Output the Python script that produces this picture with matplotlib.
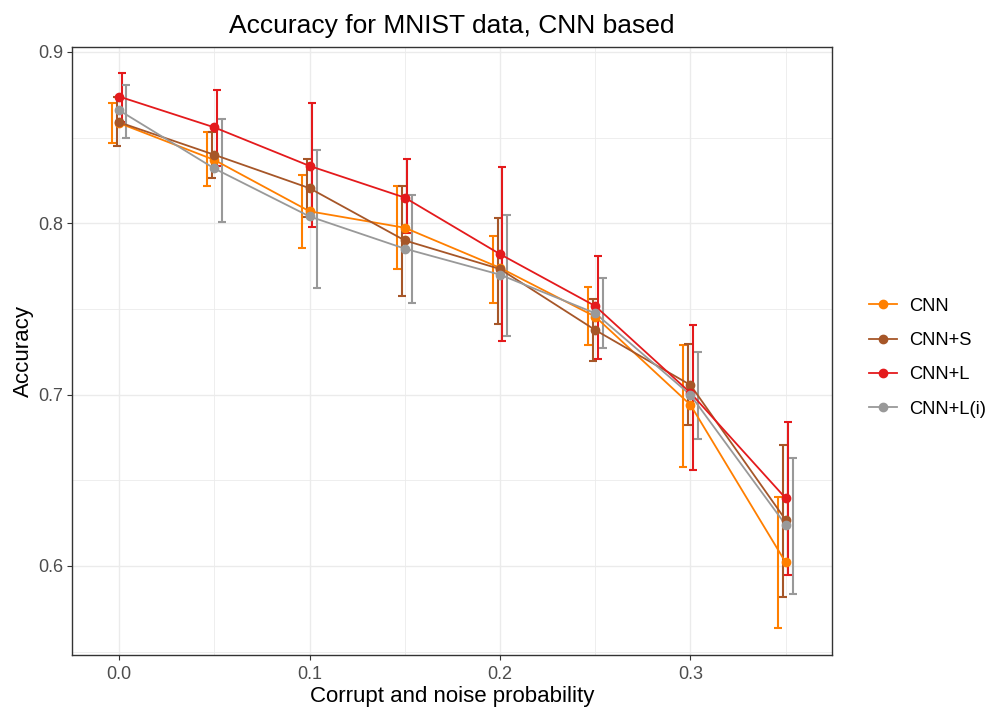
import matplotlib
matplotlib.use("Agg")
import matplotlib.pyplot as plt
from matplotlib.ticker import MultipleLocator

plt.rcParams['font.family'] = ['Liberation Sans', 'DejaVu Sans']

# data
probs = [0.0, 0.05, 0.1, 0.15, 0.2, 0.25, 0.3, 0.35]
models = ["CNN", "CNN+S", "CNN+L", "CNN+L(i)"]
colors = ["#FF7F00", "#A65628", "#E41A1C", "#999999"]

cnnMean = [0.8585, 0.837, 0.807, 0.7974, 0.774, 0.7455, 0.694, 0.602]
cnnLow = [0.847, 0.822, 0.7857, 0.7731, 0.7537, 0.729, 0.6577, 0.564]
cnnHigh = [0.870, 0.853, 0.828, 0.8218, 0.7926, 0.7626, 0.729, 0.640]

cnnSMean = [0.859, 0.840, 0.8205, 0.790, 0.7733, 0.7377, 0.7056, 0.6268]
cnnSLow = [0.845, 0.8265, 0.8035, 0.7576, 0.7412, 0.7198, 0.6823, 0.582]
cnnSHigh = [0.874, 0.853, 0.8377, 0.8218, 0.803, 0.7556, 0.7294, 0.6706]

cnnLMean = [0.874, 0.856, 0.8335, 0.815, 0.782, 0.7517, 0.701, 0.6395]
cnnLLow = [0.859, 0.8335, 0.798, 0.7945, 0.7315, 0.7206, 0.656, 0.5947]
cnnLHigh = [0.8876, 0.878, 0.870, 0.8374, 0.833, 0.781, 0.7406, 0.6838]

cnnLiMean = [0.866, 0.832, 0.804, 0.7852, 0.770, 0.7475, 0.6998, 0.6239]
cnnLiLow = [0.850, 0.801, 0.762, 0.7537, 0.734, 0.7274, 0.674, 0.5834]
cnnLiHigh = [0.881, 0.861, 0.843, 0.8165, 0.8048, 0.768, 0.7247, 0.6632]

means = [cnnMean, cnnSMean, cnnLMean, cnnLiMean]
lows = [cnnLow, cnnSLow, cnnLLow, cnnLiLow]
highs = [cnnHigh, cnnSHigh, cnnLHigh, cnnLiHigh]

dodge = [-0.0039, -0.0013, 0.0013, 0.0039]  # errorbars are dodged, points are not

fig = plt.figure(figsize=(9.89, 7.11), dpi=100)
ax = fig.add_axes([72 / 989, 1 - 655 / 711, 760 / 989, 608.5 / 711])

# error bars first
for i in range(len(models)):
    xs = [p + dodge[i] for p in probs]
    yerr = [[m - l for m, l in zip(means[i], lows[i])],
            [h - m for m, h in zip(means[i], highs[i])]]
    ax.errorbar(xs, means[i], yerr=yerr, fmt="none", ecolor=colors[i],
                elinewidth=1.5, capsize=3, capthick=1.5, zorder=2)

for i in range(len(models)):
    ax.plot(probs, means[i], color=colors[i], lw=1.3, zorder=3)

handles = []
for i in range(len(models)):
    ax.plot(probs, means[i], color=colors[i], marker="o",
            markersize=6, linestyle="none", zorder=4)
    handles.append(plt.Line2D([], [], color=colors[i], lw=1.3, marker="o", markersize=6))

ax.set_xlim(-0.0247, 0.3743)
ax.set_ylim(0.548, 0.9032)
ax.xaxis.set_major_locator(MultipleLocator(0.1))
ax.xaxis.set_minor_locator(MultipleLocator(0.05))
ax.yaxis.set_major_locator(MultipleLocator(0.1))
ax.yaxis.set_minor_locator(MultipleLocator(0.05))
ax.grid(which="major", color="#EBEBEB", lw=1.0, zorder=0)
ax.grid(which="minor", color="#EBEBEB", lw=0.6, zorder=0)
ax.set_axisbelow(True)
ax.tick_params(which="minor", length=0)
ax.tick_params(which="major", length=3.5, width=0.8, color="#333333",
               labelcolor="#4D4D4D", labelsize=13, pad=3)
ax.tick_params(axis="x", pad=4.5)
for s in ax.spines.values():
    s.set_color("#333333")
    s.set_linewidth(1.0)

ax.set_xlabel("Corrupt and noise probability", fontsize=16, labelpad=2)
ax.set_ylabel("Accuracy", fontsize=16, labelpad=3)
ax.set_title("Accuracy for MNIST data, CNN based", fontsize=19, pad=10)

fig.legend(handles, models, loc="center left", bbox_to_anchor=(0.862, 0.497),
           frameon=False, fontsize=13.2, handlelength=1.5, labelspacing=0.95,
           handletextpad=0.7)

fig.savefig("out.png", dpi=100)
